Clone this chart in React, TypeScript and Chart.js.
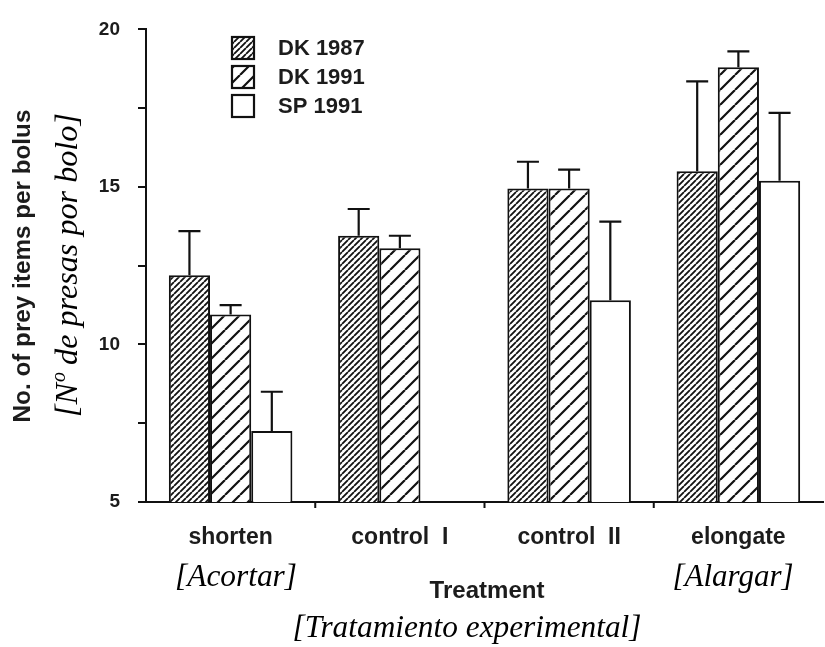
import React, { useEffect, useRef } from 'react';
import { Chart, registerables } from 'chart.js';

Chart.register(...registerables);

// Treatments along the x axis and the three sampled populations
const treatments = ['shorten', 'control  I', 'control  II', 'elongate'];
const seriesNames = ['DK 1987', 'DK 1991', 'SP 1991'];

// Mean number of prey items per bolus
const dk1987 = [12.2, 13.45, 14.95, 15.5];
const dk1991 = [10.95, 13.05, 14.95, 18.8];
const sp1991: (number | null)[] = [7.25, null, 11.4, 15.2];

// Upper error (SE) above each mean
const dk1987Err = [1.4, 0.85, 0.85, 2.85];
const dk1991Err = [0.3, 0.4, 0.6, 0.5];
const sp1991Err: (number | null)[] = [1.25, null, 2.5, 2.15];

// Labelled values on the y axis (minor marks every 2.5)
const yTickLabels = [5, 10, 15, 20];

const INK = '#111';
const TEXT = '#1c1c1c';

function makeHatch(step: number, width: number): CanvasPattern | string {
  const c = document.createElement('canvas');
  c.width = step;
  c.height = step;
  const g = c.getContext('2d');
  if (!g) return '#fff';
  g.fillStyle = '#fff';
  g.fillRect(0, 0, step, step);
  g.strokeStyle = INK;
  g.lineWidth = width;
  g.beginPath();
  for (let k = -1; k <= 1; k++) {
    g.moveTo(k * step, step);
    g.lineTo(k * step + step, 0);
  }
  g.stroke();
  const p = g.createPattern(c, 'repeat');
  return p || '#fff';
}

function fitFont(ctx: CanvasRenderingContext2D, text: string, font: (s: number) => string, width: number) {
  ctx.font = font(100);
  const w = ctx.measureText(text).width;
  return (100 * width) / w;
}

function drawFitted(
  ctx: CanvasRenderingContext2D,
  text: string,
  font: (s: number) => string,
  cx: number,
  baseline: number,
  width: number
) {
  const size = fitFont(ctx, text, font, width);
  ctx.font = font(size);
  ctx.textAlign = 'center';
  ctx.textBaseline = 'alphabetic';
  ctx.fillText(text, cx, baseline);
}

const serifItalic = (s: number) => `italic ${s}px "Liberation Serif", "DejaVu Serif", serif`;
const sansBold = (s: number) => `bold ${s}px "Liberation Sans", Arial, sans-serif`;

// Upper whiskers with caps drawn from each bar's own value
const errorBars = {
  id: 'errorBars',
  afterDatasetsDraw(chart: any) {
    const ctx: CanvasRenderingContext2D = chart.ctx;
    const yScale = chart.scales.y;
    chart.data.datasets.forEach((ds: any, di: number) => {
      const meta = chart.getDatasetMeta(di);
      meta.data.forEach((bar: any, i: number) => {
        const v = ds.data[i];
        const e = ds.errors[i];
        if (v == null || e == null) return;
        const top = yScale.getPixelForValue(v + e);
        ctx.save();
        ctx.strokeStyle = INK;
        ctx.lineWidth = 2.2;
        ctx.beginPath();
        ctx.moveTo(bar.x, bar.y);
        ctx.lineTo(bar.x, top);
        ctx.moveTo(bar.x - 11, top);
        ctx.lineTo(bar.x + 11, top);
        ctx.stroke();
        ctx.restore();
      });
    });
  },
};

// Boundary marks between treatment groups on the x axis
const groupMarks = {
  id: 'groupMarks',
  afterDraw(chart: any) {
    const ctx: CanvasRenderingContext2D = chart.ctx;
    const x = chart.scales.x;
    const bottom = chart.chartArea.bottom;
    ctx.save();
    ctx.strokeStyle = INK;
    ctx.lineWidth = 2;
    ctx.beginPath();
    for (let i = 0; i < treatments.length - 1; i++) {
      const px = (x.getPixelForTick(i) + x.getPixelForTick(i + 1)) / 2;
      ctx.moveTo(px, bottom);
      ctx.lineTo(px, bottom + 6);
    }
    ctx.stroke();
    ctx.restore();
  },
};

// Legend box with the series fills
const hatchLegend = {
  id: 'hatchLegend',
  afterDraw(chart: any) {
    const ctx: CanvasRenderingContext2D = chart.ctx;
    const boxX = 232;
    const boxTops = [37, 66, 95];
    const size = 22;
    ctx.save();
    chart.data.datasets.forEach((ds: any, i: number) => {
      const top = boxTops[i];
      ctx.fillStyle = ds.backgroundColor;
      ctx.fillRect(boxX, top, size, size);
      ctx.strokeStyle = INK;
      ctx.lineWidth = 2.2;
      ctx.strokeRect(boxX, top, size, size);
      ctx.fillStyle = TEXT;
      ctx.font = sansBold(22);
      ctx.textAlign = 'left';
      ctx.textBaseline = 'middle';
      ctx.fillText(ds.label, 278, top + size / 2 + 1);
    });
    ctx.restore();
  },
};

// Axis titles, with the Spanish translations in brackets
const axisTitles = {
  id: 'axisTitles',
  afterDraw(chart: any) {
    const ctx: CanvasRenderingContext2D = chart.ctx;
    ctx.save();
    ctx.fillStyle = TEXT;

    // y title (English)
    ctx.save();
    ctx.translate(30, 266);
    ctx.rotate(-Math.PI / 2);
    drawFitted(ctx, 'No. of prey items per bolus', sansBold, 0, 0, 313);
    ctx.restore();

    // y title (Spanish), "N" with a raised small "o"
    ctx.save();
    ctx.translate(77, 265);
    ctx.rotate(-Math.PI / 2);
    ctx.fillStyle = '#000';
    const partA = '[N';
    const partB = 'o';
    const partC = ' de presas por bolo]';
    const measure = (s: number) => {
      ctx.font = serifItalic(s);
      const a = ctx.measureText(partA).width;
      const c = ctx.measureText(partC).width;
      ctx.font = serifItalic(s * 0.62);
      const b = ctx.measureText(partB).width;
      return a + b + c;
    };
    const size = (100 * 304) / measure(100);
    ctx.font = serifItalic(size);
    const wA = ctx.measureText(partA).width;
    const wC = ctx.measureText(partC).width;
    ctx.font = serifItalic(size * 0.62);
    const wB = ctx.measureText(partB).width;
    let x0 = -(wA + wB + wC) / 2;
    ctx.textAlign = 'left';
    ctx.textBaseline = 'alphabetic';
    ctx.font = serifItalic(size);
    ctx.fillText(partA, x0, 0);
    x0 += wA;
    ctx.font = serifItalic(size * 0.62);
    ctx.fillText(partB, x0 + 1, -size * 0.36);
    x0 += wB;
    ctx.font = serifItalic(size);
    ctx.fillText(partC, x0, 0);
    ctx.restore();

    // x titles
    ctx.fillStyle = '#000';
    drawFitted(ctx, '[Acortar]', serifItalic, 236, 586, 122);
    drawFitted(ctx, '[Alargar]', serifItalic, 733, 586, 121);
    drawFitted(ctx, '[Tratamiento experimental]', serifItalic, 467, 637, 349);
    ctx.fillStyle = TEXT;
    drawFitted(ctx, 'Treatment', sansBold, 487, 598, 115);
    ctx.restore();
  },
};

export default function App() {
  const canvasRef = useRef<HTMLCanvasElement | null>(null);

  useEffect(() => {
    const canvas = canvasRef.current;
    if (!canvas) return;

    const fills = [makeHatch(6, 1.8), makeHatch(15, 2.2), '#ffffff'];
    const values = [dk1987, dk1991, sp1991];
    const errors = [dk1987Err, dk1991Err, sp1991Err];

    const chart = new Chart(canvas, {
      type: 'bar',
      data: {
        labels: treatments,
        datasets: seriesNames.map((name, i) => ({
          label: name,
          data: values[i] as any,
          errors: errors[i],
          backgroundColor: fills[i] as any,
          borderColor: INK,
          borderWidth: 2,
          categoryPercentage: 0.73,
          barPercentage: 1.0,
        })) as any,
      },
      options: {
        responsive: false,
        animation: false,
        devicePixelRatio: 1,
        layout: { padding: { left: 0, top: 14, right: 2, bottom: 0 } },
        plugins: {
          legend: { display: false },
          tooltip: { enabled: false },
        },
        scales: {
          x: {
            offset: true,
            grid: { display: false, drawTicks: false },
            border: { display: true, color: INK, width: 2 },
            ticks: {
              color: TEXT,
              padding: 22,
              font: { family: '"Liberation Sans", Arial, sans-serif', size: 23, weight: 'bold' },
              maxRotation: 0,
              autoSkip: false,
            },
            afterFit: (scale: any) => {
              scale.height = 145;
            },
          },
          y: {
            min: 5,
            max: 20,
            grid: {
              display: true,
              drawOnChartArea: false,
              drawTicks: true,
              tickLength: 8,
              color: INK,
              lineWidth: 2,
            },
            border: { display: true, color: INK, width: 2 },
            ticks: {
              stepSize: 2.5,
              color: TEXT,
              padding: 18,
              font: { family: '"Liberation Sans", Arial, sans-serif', size: 19, weight: 'bold' },
              callback: (v: any) => (yTickLabels.includes(Number(v)) ? String(v) : ''),
            },
            afterFit: (scale: any) => {
              scale.width = 146;
            },
          },
        },
      },
      plugins: [errorBars, groupMarks, hatchLegend, axisTitles],
    });

    return () => chart.destroy();
  }, []);

  return (
    <div style={{ position: 'absolute', left: 0, top: 0, width: 825, height: 647, background: '#fff' }}>
      <canvas ref={canvasRef} width={825} height={647} />
    </div>
  );
}
